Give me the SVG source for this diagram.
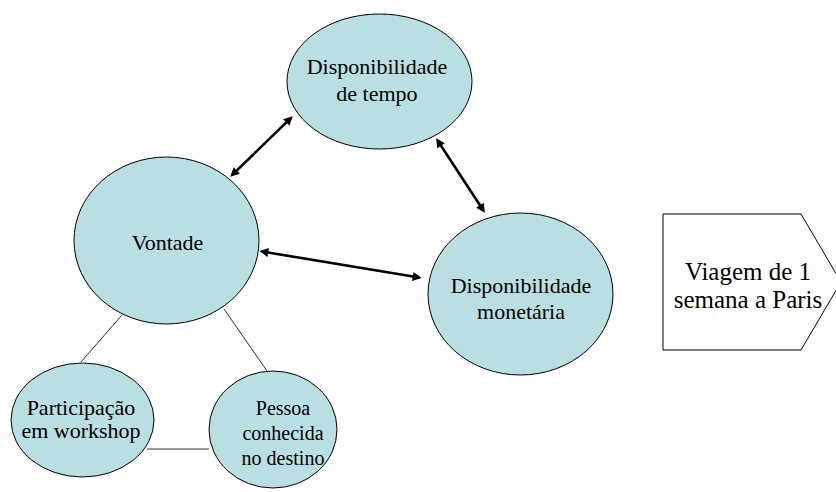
<svg xmlns="http://www.w3.org/2000/svg" width="836" height="492" viewBox="0 0 836 492">
<style>
.node{fill:#B9DFE3;stroke:#000;stroke-width:1}
.box{fill:#fff;stroke:#000;stroke-width:1}
text{font-family:'Liberation Serif','Times New Roman','DejaVu Serif',serif;font-size:22px;fill:#000;text-anchor:middle}
.t20{font-size:20px}
.t25{font-size:25px}
.arrow{stroke:#000;stroke-width:2.6;fill:none;marker-start:url(#ah);marker-end:url(#ah)}
.link{stroke:#333;stroke-width:1;fill:none}
</style>
<defs>
<marker id="ah" viewBox="0 0 10 10" markerWidth="10" markerHeight="9" refX="7" refY="5" markerUnits="userSpaceOnUse" orient="auto-start-reverse">
<path d="M0,0 L10,5 L0,10 z" fill="#000"/>
</marker>
</defs>
<rect width="836" height="492" fill="#fff"/>
<g id="connectors">
<line class="arrow" x1="290.8" y1="118.1" x2="232.2" y2="174.9"/>
<line class="arrow" x1="437.6" y1="140.5" x2="483.4" y2="210.5"/>
<line class="arrow" x1="262" y1="251.5" x2="419" y2="277.5"/>
<line class="link" x1="122" y1="315" x2="81" y2="362"/>
<line class="link" x1="224" y1="309" x2="267" y2="371"/>
<line class="link" x1="147" y1="449" x2="209" y2="449"/>
</g>
<g id="tempo">
<ellipse class="node" cx="379.5" cy="81.5" rx="92.5" ry="67.5"/>
<text x="377" y="74">Disponibilidade</text>
<text x="377" y="101">de tempo</text>
</g>
<g id="vontade">
<ellipse class="node" cx="166.5" cy="240.5" rx="92.5" ry="83.5"/>
<text x="167.5" y="250">Vontade</text>
</g>
<g id="monetaria">
<ellipse class="node" cx="520.5" cy="294" rx="92.5" ry="81"/>
<text x="521" y="293">Disponibilidade</text>
<text x="521" y="319">monetária</text>
</g>
<g id="participacao">
<ellipse class="node" cx="82.5" cy="420" rx="71.5" ry="57"/>
<text x="81" y="415">Participação</text>
<text x="81" y="438">em workshop</text>
</g>
<g id="pessoa">
<ellipse class="node" cx="273" cy="429.5" rx="64" ry="58.5"/>
<text class="t20" x="283" y="415">Pessoa</text>
<text class="t20" x="283" y="440">conhecida</text>
<text class="t20" x="283" y="465">no destino</text>
</g>
<g id="viagem">
<polygon class="box" points="663,214 801,214 841,282 801,350 663,350"/>
<text class="t25" x="748" y="280">Viagem de 1</text>
<text class="t25" x="748" y="308">semana a Paris</text>
</g>
</svg>
